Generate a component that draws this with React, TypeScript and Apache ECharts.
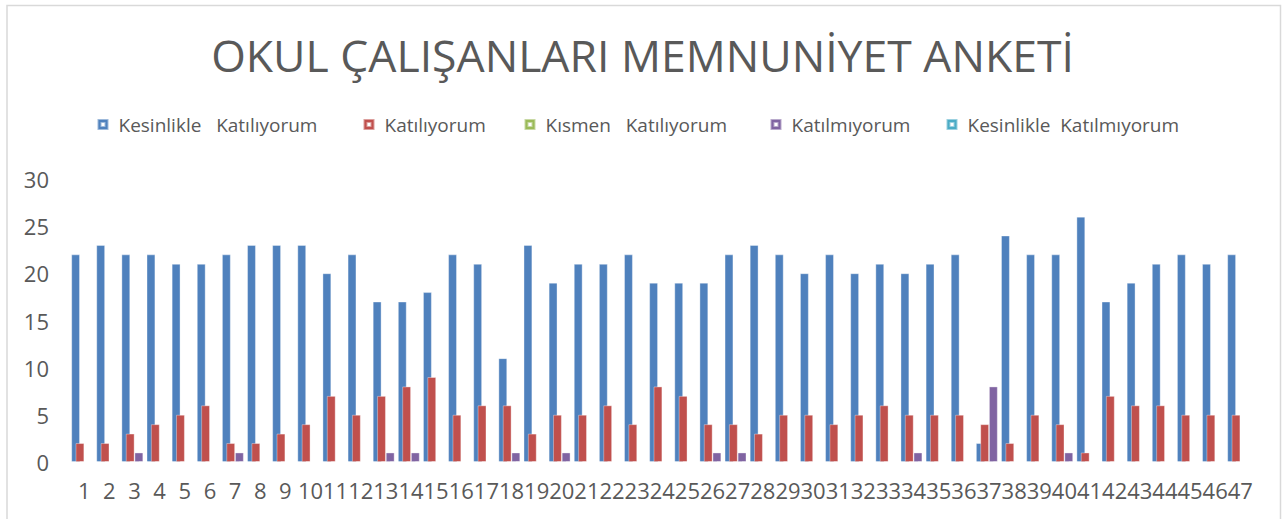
import React, { useEffect, useRef } from "react";
import * as echarts from "echarts";

const titleText = "OKUL ÇALIŞANLARI MEMNUNİYET ANKETİ";

const categories = [
  "1", "2", "3", "4", "5", "6", "7", "8", "9", "10",
  "11", "12", "13", "14", "15", "16", "17", "18", "19", "20",
  "21", "22", "23", "24", "25", "26", "27", "28", "29", "30",
  "31", "32", "33", "34", "35", "36", "37", "38", "39", "40",
  "41", "42", "43", "44", "45", "46", "47",
];

const seriesNames = [
  "Kesinlikle   Katılıyorum",
  "Katılıyorum",
  "Kısmen   Katılıyorum",
  "Katılmıyorum",
  "Kesinlikle  Katılmıyorum",
];

const kesinlikleKatiliyorum = [
  22, 23, 22, 22, 21, 21, 22, 23, 23, 23,
  20, 22, 17, 17, 18, 22, 21, 11, 23, 19,
  21, 21, 22, 19, 19, 19, 22, 23, 22, 20,
  22, 20, 21, 20, 21, 22, 2, 24, 22, 22,
  26, 17, 19, 21, 22, 21, 22,
];

const katiliyorum = [
  2, 2, 3, 4, 5, 6, 2, 2, 3, 4,
  7, 5, 7, 8, 9, 5, 6, 6, 3, 5,
  5, 6, 4, 8, 7, 4, 4, 3, 5, 5,
  4, 5, 6, 5, 5, 5, 4, 2, 5, 4,
  1, 7, 6, 6, 5, 5, 5,
];

const kismenKatiliyorum = [
  0, 0, 0, 0, 0, 0, 0, 0, 0, 0,
  0, 0, 0, 0, 0, 0, 0, 0, 0, 0,
  0, 0, 0, 0, 0, 0, 0, 0, 0, 0,
  0, 0, 0, 0, 0, 0, 0, 0, 0, 0,
  0, 0, 0, 0, 0, 0, 0,
];

const katilmiyorum = [
  0, 0, 1, 0, 0, 0, 1, 0, 0, 0,
  0, 0, 1, 1, 0, 0, 0, 1, 0, 1,
  0, 0, 0, 0, 0, 1, 1, 0, 0, 0,
  0, 0, 0, 1, 0, 0, 8, 0, 0, 1,
  0, 0, 0, 0, 0, 0, 0,
];

const kesinlikleKatilmiyorum = [
  0, 0, 0, 0, 0, 0, 0, 0, 0, 0,
  0, 0, 0, 0, 0, 0, 0, 0, 0, 0,
  0, 0, 0, 0, 0, 0, 0, 0, 0, 0,
  0, 0, 0, 0, 0, 0, 0, 0, 0, 0,
  0, 0, 0, 0, 0, 0, 0,
];

const yTicks = { min: 0, max: 30, interval: 5 };

const colors = ["#4F81BD", "#C0504D", "#9BBB59", "#8064A2", "#4BACC6"];
const legendTextWidths = [244, 139, 224, 154, 231];

const FONT = "'Open Sans', 'Noto Sans', sans-serif";
const GRAY = "#595959";

export default function App() {
  const ref = useRef<HTMLDivElement>(null);

  useEffect(() => {
    if (!ref.current) return;
    const chart = echarts.init(ref.current, undefined, { renderer: "svg" });
    const allData = [
      kesinlikleKatiliyorum,
      katiliyorum,
      kismenKatiliyorum,
      katilmiyorum,
      kesinlikleKatilmiyorum,
    ];
    const rich: Record<string, any> = {};
    legendTextWidths.forEach((w, i) => {
      rich["w" + i] = {
        width: w,
        padding: [0, 0, 0, 5],
        fontSize: 19,
        lineHeight: 22,
        color: GRAY,
        fontFamily: FONT,
      };
    });
    chart.setOption({
      animation: false,
      backgroundColor: "#ffffff",
      title: {
        text: titleText,
        left: "center",
        top: 23,
        textStyle: {
          fontFamily: FONT,
          fontSize: 44.5,
          fontWeight: "normal",
          color: GRAY,
          lineHeight: 52,
        },
      },
      legend: {
        left: 96.5,
        top: 115,
        padding: 0,
        itemWidth: 11,
        itemHeight: 11,
        itemGap: 0,
        icon: "path://M0,0H11V11H0Z M4,4V7H7V4Z",
        data: seriesNames,
        formatter: (name: string) => {
          const i = seriesNames.indexOf(name);
          return "{w" + i + "|" + name + "}";
        },
        textStyle: {
          fontFamily: FONT,
          fontSize: 19,
          color: GRAY,
          rich,
        },
      },
      grid: {
        left: 71.7,
        right: 32.1,
        top: 179,
        bottom: 57,
      },
      xAxis: {
        type: "category",
        data: categories,
        axisLine: { show: false },
        axisTick: { show: false },
        splitLine: { show: false },
        axisLabel: {
          interval: 0,
          margin: 17,
          fontFamily: FONT,
          fontSize: 22,
          color: GRAY,
        },
      },
      yAxis: {
        type: "value",
        min: yTicks.min,
        max: yTicks.max,
        interval: yTicks.interval,
        axisLine: { show: false },
        axisTick: { show: false },
        splitLine: { show: false },
        axisLabel: {
          margin: 22.7,
          fontFamily: FONT,
          fontSize: 22,
          color: GRAY,
        },
      },
      graphic: [
        {
          type: "rect",
          silent: true,
          z: -10,
          shape: { x: 7, y: 5.5, width: 1273.5, height: 530 },
          style: { fill: "none", stroke: "#D9D9D9", lineWidth: 1.5 },
        },
      ],
      series: seriesNames.map((name, i) => ({
        name,
        type: "bar",
        data: allData[i],
        barWidth: 8.7,
        barGap: "-50%",
        itemStyle: {
          color: colors[i],
          borderColor: "rgba(255,255,255,0.45)",
          borderWidth: 0.8,
        },
      })),
    });
    return () => {
      chart.dispose();
    };
  }, []);

  return (
    <div
      ref={ref}
      style={{ position: "absolute", left: 0, top: 0, width: 1285, height: 519 }}
    />
  );
}
